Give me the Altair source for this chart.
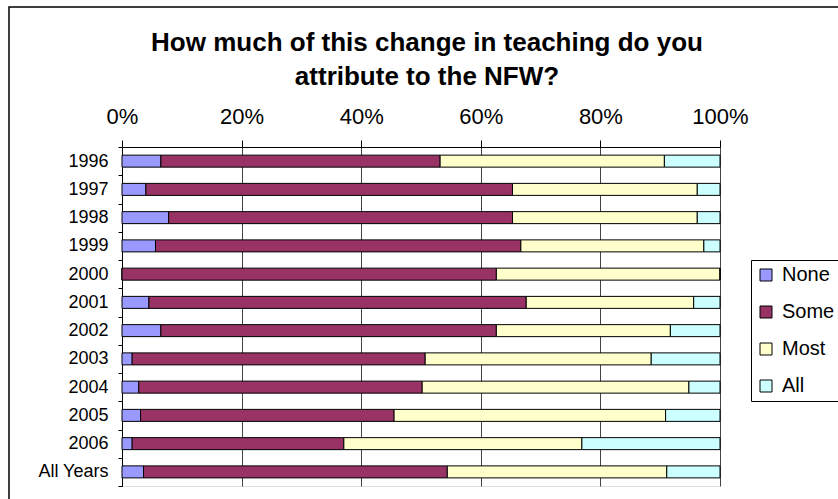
import altair as alt
import pandas as pd

categories = ["1996", "1997", "1998", "1999", "2000", "2001", "2002",
              "2003", "2004", "2005", "2006", "All Years"]
levels = ["None", "Some", "Most", "All"]
colors = ["#9999FF", "#993366", "#FFFFCC", "#CCFFFF"]

none_vals = [6.5, 4.0, 7.8, 5.6, 0.0, 4.5, 6.5, 1.7, 2.8, 3.1, 1.7, 3.6]
some_vals = [46.7, 61.3, 57.5, 61.1, 62.6, 63.1, 56.1, 49.0, 47.4, 42.4, 35.4, 50.8]
most_vals = [37.5, 30.9, 30.9, 30.6, 37.4, 28.0, 29.1, 37.8, 44.6, 45.4, 39.8, 36.7]
all_vals = [9.3, 3.8, 3.8, 2.7, 0.0, 4.4, 8.3, 11.5, 5.2, 9.1, 23.1, 8.9]

title_lines = ["How much of this change in teaching do you", "attribute to the NFW?"]

series = [none_vals, some_vals, most_vals, all_vals]
rows = []
for li, (lev, vals) in enumerate(zip(levels, series)):
    for cat, v in zip(categories, vals):
        rows.append({"Year": cat, "Level": lev, "Value": v, "Order": li})
df = pd.DataFrame(rows)

FONT = "Liberation Sans"

bars = alt.Chart(df).mark_bar(size=12, stroke="black", strokeWidth=1).encode(
    y=alt.Y("Year:N", sort=categories,
            scale=alt.Scale(paddingInner=0, paddingOuter=0),
            axis=alt.Axis(title=None, tickBand="extent", labelFontSize=18,
                          labelFont=FONT, labelColor="black", tickSize=4,
                          labelPadding=10, domainColor="black",
                          tickColor="black", grid=False)),
    x=alt.X("Value:Q", stack="normalize",
            scale=alt.Scale(domain=[0, 1]),
            axis=alt.Axis(orient="top", title=None, format=".0%",
                          values=[0, 0.2, 0.4, 0.6, 0.8, 1.0],
                          labelFontSize=22, labelFont=FONT, labelColor="black",
                          labelBaseline="alphabetic", labelPadding=17,
                          labelFlush=False,
                          tickSize=7, tickColor="black", domainColor="black",
                          grid=True, gridColor="#444444", gridWidth=1)),
    color=alt.Color("Level:N", sort=levels,
                    scale=alt.Scale(domain=levels, range=colors),
                    legend=alt.Legend(title=None, orient="none",
                                      legendX=629, legendY=113,
                                      strokeColor="black", fillColor="white",
                                      padding=5, labelFontSize=20,
                                      labelFont=FONT, labelColor="black",
                                      symbolType="square", symbolSize=144,
                                      symbolStrokeColor="black",
                                      symbolStrokeWidth=1, rowPadding=17,
                                      labelOffset=6)),
    order=alt.Order("Order:Q"),
)

frame_df = pd.DataFrame({"k": [0]})
frame = alt.Chart(frame_df).mark_rect(fill=None, stroke="black", strokeWidth=1.5).encode(
    x=alt.value(-113), x2=alt.value(760),
    y=alt.value(-140), y2=alt.value(400),
)

title1 = alt.Chart(pd.DataFrame({"t": [title_lines[0]]})).mark_text(
    font=FONT, fontSize=26, fontWeight="bold", color="black",
    align="center", baseline="alphabetic").encode(
    text="t:N", x=alt.value(305), y=alt.value(-96))
title2 = alt.Chart(pd.DataFrame({"t": [title_lines[1]]})).mark_text(
    font=FONT, fontSize=26, fontWeight="bold", color="black",
    align="center", baseline="alphabetic").encode(
    text="t:N", x=alt.value(305), y=alt.value(-62))

chart = alt.layer(frame, bars, title1, title2).properties(
    width=598, height=339,
    autosize=alt.AutoSizeParams(type="none"),
    padding={"left": 122, "top": 147, "right": 118, "bottom": 13},
).configure_view(stroke=None).configure(background="white")

chart.save("out.html", embed_options={"renderer": "svg", "actions": False})
